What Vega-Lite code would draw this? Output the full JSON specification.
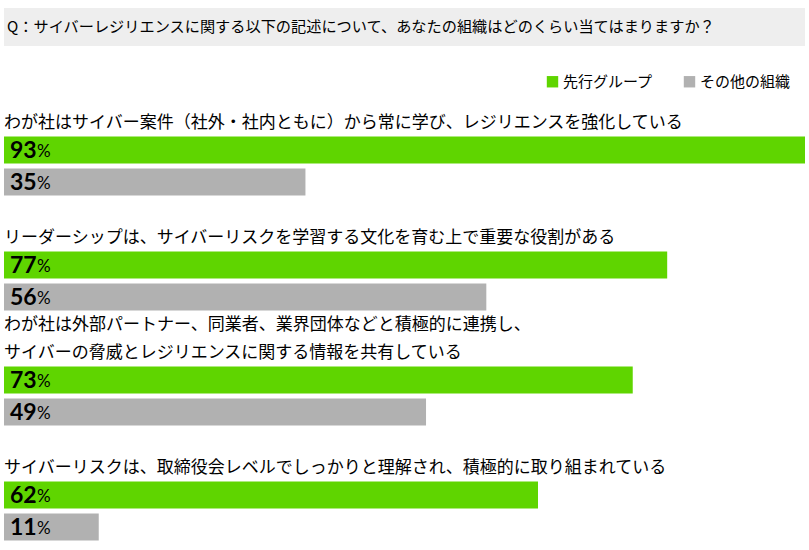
{
  "$schema": "https://vega.github.io/schema/vega-lite/v6.json",
  "description": "サイバーレジリエンスに関する記述への当てはまり度 - 先行グループ vs その他の組織",
  "padding": {"left": 4, "top": 8, "right": 4, "bottom": 4},
  "background": "white",
  "datasets": {
    "results": [
      {"q": 1, "group": "先行グループ", "value": 93},
      {"q": 1, "group": "その他の組織", "value": 35},
      {"q": 2, "group": "先行グループ", "value": 77},
      {"q": 2, "group": "その他の組織", "value": 56},
      {"q": 3, "group": "先行グループ", "value": 73},
      {"q": 3, "group": "その他の組織", "value": 49},
      {"q": 4, "group": "先行グループ", "value": 62},
      {"q": 4, "group": "その他の組織", "value": 11}
    ]
  },
  "config": {
    "view": {"stroke": null},
    "title": {
      "anchor": "start",
      "font": "Noto Sans CJK JP",
      "fontSize": 17,
      "fontWeight": "normal",
      "lineHeight": 28,
      "offset": 2,
      "color": "#000000"
    },
    "legend": {
      "labelFont": "Noto Sans CJK JP",
      "labelFontSize": 15,
      "labelColor": "#000000",
      "symbolType": "square",
      "symbolSize": 130,
      "symbolStrokeWidth": 0,
      "labelOffset": 3,
      "columnPadding": 28
    }
  },
  "spacing": 40,
  "vconcat": [
    {
      "width": 801,
      "height": 38,
      "view": {"fill": "#eeeeee"},
      "data": {"values": [{"text": "Q：サイバーレジリエンスに関する以下の記述について、あなたの組織はどのくらい当てはまりますか？"}]},
      "mark": {"type": "text", "align": "left", "baseline": "middle", "dx": 3, "fontSize": 15.2, "font": "Noto Sans CJK JP", "color": "#000000"},
      "encoding": {
        "x": {"datum": 0, "type": "quantitative", "scale": {"domain": [0, 1]}, "axis": null},
        "text": {"field": "text"}
      }
    },
    {
      "spacing": 3,
      "vconcat": [
        {
          "title": {"text": ["", "わが社はサイバー案件（社外・社内ともに）から常に学び、レジリエンスを強化している"]},
          "width": 801,
          "height": {"step": 32},
          "data": {"name": "results"},
          "transform": [{"filter": "datum.q == 1"}],
          "encoding": {
            "y": {"field": "group", "type": "nominal", "sort": ["先行グループ", "その他の組織"], "axis": null, "scale": {"paddingInner": 0.16, "paddingOuter": 0.08}}
          },
          "layer": [
            {
              "mark": {"type": "bar"},
              "encoding": {
                "x": {"field": "value", "type": "quantitative", "scale": {"domain": [0, 93], "nice": false}, "axis": null},
                "color": {
                  "field": "group", "type": "nominal",
                  "scale": {"domain": ["先行グループ", "その他の組織"], "range": ["#5fd500", "#b1b1b1"]},
                  "legend": {"title": null, "orient": "none", "direction": "horizontal", "legendX": 541, "legendY": 66}
                }
              }
            },
            {
              "mark": {"type": "text", "align": "left", "baseline": "middle", "dx": 6, "dy": 1, "fontSize": 23, "fontWeight": "bold", "font": "Lato", "color": "#000000"},
              "encoding": {"x": {"datum": 0, "type": "quantitative"}, "text": {"field": "value"}}
            },
            {
              "mark": {"type": "text", "align": "left", "baseline": "middle", "dx": 33, "dy": 2, "fontSize": 17, "font": "Lato", "color": "#000000"},
              "encoding": {"x": {"datum": 0, "type": "quantitative"}, "text": {"value": "%"}}
            }
          ]
        },
        {
          "title": {"text": ["", "リーダーシップは、サイバーリスクを学習する文化を育む上で重要な役割がある"]},
          "width": 801,
          "height": {"step": 32},
          "data": {"name": "results"},
          "transform": [{"filter": "datum.q == 2"}],
          "encoding": {
            "y": {"field": "group", "type": "nominal", "sort": ["先行グループ", "その他の組織"], "axis": null, "scale": {"paddingInner": 0.16, "paddingOuter": 0.08}}
          },
          "layer": [
            {
              "mark": {"type": "bar"},
              "encoding": {
                "x": {"field": "value", "type": "quantitative", "scale": {"domain": [0, 93], "nice": false}, "axis": null},
                "color": {
                  "field": "group", "type": "nominal",
                  "scale": {"domain": ["先行グループ", "その他の組織"], "range": ["#5fd500", "#b1b1b1"]},
                  "legend": null
                }
              }
            },
            {
              "mark": {"type": "text", "align": "left", "baseline": "middle", "dx": 6, "dy": 1, "fontSize": 23, "fontWeight": "bold", "font": "Lato", "color": "#000000"},
              "encoding": {"x": {"datum": 0, "type": "quantitative"}, "text": {"field": "value"}}
            },
            {
              "mark": {"type": "text", "align": "left", "baseline": "middle", "dx": 33, "dy": 2, "fontSize": 17, "font": "Lato", "color": "#000000"},
              "encoding": {"x": {"datum": 0, "type": "quantitative"}, "text": {"value": "%"}}
            }
          ]
        },
        {
          "title": {"text": ["わが社は外部パートナー、同業者、業界団体などと積極的に連携し、", "サイバーの脅威とレジリエンスに関する情報を共有している"]},
          "width": 801,
          "height": {"step": 32},
          "data": {"name": "results"},
          "transform": [{"filter": "datum.q == 3"}],
          "encoding": {
            "y": {"field": "group", "type": "nominal", "sort": ["先行グループ", "その他の組織"], "axis": null, "scale": {"paddingInner": 0.16, "paddingOuter": 0.08}}
          },
          "layer": [
            {
              "mark": {"type": "bar"},
              "encoding": {
                "x": {"field": "value", "type": "quantitative", "scale": {"domain": [0, 93], "nice": false}, "axis": null},
                "color": {
                  "field": "group", "type": "nominal",
                  "scale": {"domain": ["先行グループ", "その他の組織"], "range": ["#5fd500", "#b1b1b1"]},
                  "legend": null
                }
              }
            },
            {
              "mark": {"type": "text", "align": "left", "baseline": "middle", "dx": 6, "dy": 1, "fontSize": 23, "fontWeight": "bold", "font": "Lato", "color": "#000000"},
              "encoding": {"x": {"datum": 0, "type": "quantitative"}, "text": {"field": "value"}}
            },
            {
              "mark": {"type": "text", "align": "left", "baseline": "middle", "dx": 33, "dy": 2, "fontSize": 17, "font": "Lato", "color": "#000000"},
              "encoding": {"x": {"datum": 0, "type": "quantitative"}, "text": {"value": "%"}}
            }
          ]
        },
        {
          "title": {"text": ["", "サイバーリスクは、取締役会レベルでしっかりと理解され、積極的に取り組まれている"]},
          "width": 801,
          "height": {"step": 32},
          "data": {"name": "results"},
          "transform": [{"filter": "datum.q == 4"}],
          "encoding": {
            "y": {"field": "group", "type": "nominal", "sort": ["先行グループ", "その他の組織"], "axis": null, "scale": {"paddingInner": 0.16, "paddingOuter": 0.08}}
          },
          "layer": [
            {
              "mark": {"type": "bar"},
              "encoding": {
                "x": {"field": "value", "type": "quantitative", "scale": {"domain": [0, 93], "nice": false}, "axis": null},
                "color": {
                  "field": "group", "type": "nominal",
                  "scale": {"domain": ["先行グループ", "その他の組織"], "range": ["#5fd500", "#b1b1b1"]},
                  "legend": null
                }
              }
            },
            {
              "mark": {"type": "text", "align": "left", "baseline": "middle", "dx": 6, "dy": 1, "fontSize": 23, "fontWeight": "bold", "font": "Lato", "color": "#000000"},
              "encoding": {"x": {"datum": 0, "type": "quantitative"}, "text": {"field": "value"}}
            },
            {
              "mark": {"type": "text", "align": "left", "baseline": "middle", "dx": 33, "dy": 2, "fontSize": 17, "font": "Lato", "color": "#000000"},
              "encoding": {"x": {"datum": 0, "type": "quantitative"}, "text": {"value": "%"}}
            }
          ]
        }
      ]
    }
  ]
}
